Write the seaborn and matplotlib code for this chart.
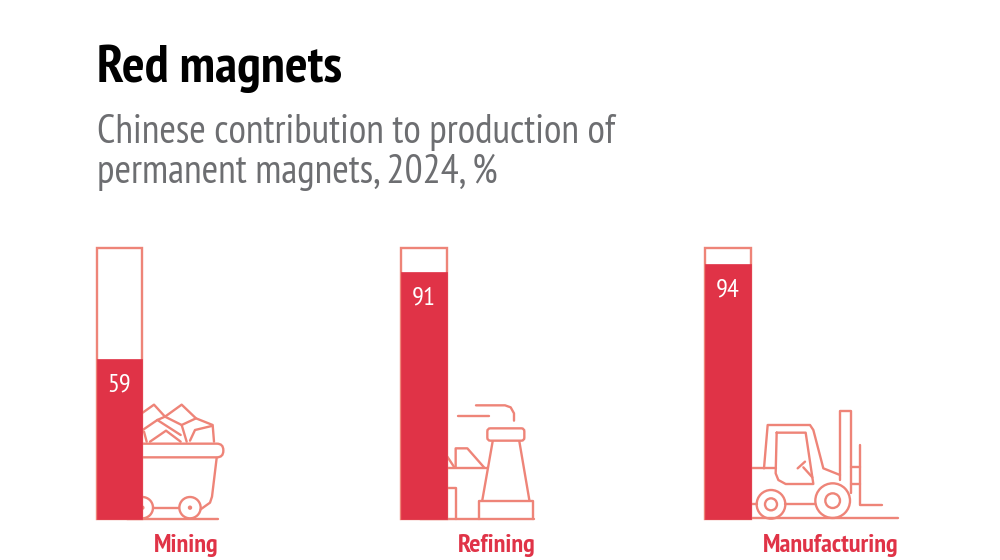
import matplotlib
matplotlib.use('Agg')
import logging
import matplotlib.pyplot as plt
import seaborn as sns
from matplotlib.patches import Circle, FancyBboxPatch

# data
stages = ['Mining', 'Refining', 'Manufacturing']
china_share = [59, 91, 94]
full_scale = [100, 100, 100]
value_labels = ['59', '91', '94']

RED = '#e03347'
LINE = '#ee8478'
GREY = '#6d6e71'

sns.set_style('white')
logging.getLogger('matplotlib.font_manager').setLevel(logging.ERROR)
plt.rcParams['font.family'] = ['PT Sans Narrow', 'Roboto', 'DejaVu Sans']

fig = plt.figure(figsize=(10, 5.6), dpi=100, facecolor='white')

# icons sit behind the bars, drawn in figure pixels
bg = fig.add_axes([0, 0, 1, 1], zorder=0)
bg.set_xlim(0, 1000)
bg.set_ylim(560, 0)
bg.axis('off')


def line(x0, y0, pts, lw=1.7):
    xs = [x0 + p[0] / 3 for p in pts]
    ys = [y0 + p[1] / 3 for p in pts]
    bg.plot(xs, ys, color=LINE, lw=lw, solid_capstyle='round', solid_joinstyle='round')


def wheel(x0, y0, cx, cy, r, r2):
    bg.add_patch(Circle((x0 + cx / 3, y0 + cy / 3), r / 3, fc='none', ec=LINE, lw=1.7))
    bg.add_patch(Circle((x0 + cx / 3, y0 + cy / 3), r2 / 3, fc='none', ec=LINE, lw=1.7))


def rounded(x0, y0, x1, y1, x2, y2, rad):
    bg.add_patch(FancyBboxPatch((x0 + x1 / 3 + rad, y0 + y1 / 3 + rad),
                                (x2 - x1) / 3 - 2 * rad, (y2 - y1) / 3 - 2 * rad,
                                boxstyle='round,pad=%s' % rad, fc='none', ec=LINE, lw=1.7))


# mining cart
x0, y0 = 80, 340
line(x0, y0, [(140, 537), (413, 537)])
rounded(x0, y0, 150, 311, 430, 352, 6.5)
line(x0, y0, [(410, 354), (396, 470), (390, 488), (362, 508)])
line(x0, y0, [(218, 503), (297, 503)])
wheel(x0, y0, 187, 503, 32, 3)
wheel(x0, y0, 330, 503, 32, 3)

# rocks in the cart
x0, y0 = 140, 400
line(x0, y0, [(8, 38), (42, 14), (75, 50)])
line(x0, y0, [(75, 50), (125, 14), (168, 55), (218, 75), (222, 125)])
line(x0, y0, [(8, 90), (52, 60), (122, 105)])
line(x0, y0, [(52, 60), (75, 50), (125, 75), (168, 55)])
line(x0, y0, [(12, 95), (20, 125)])
line(x0, y0, [(30, 125), (78, 92), (122, 125)])
line(x0, y0, [(125, 75), (140, 125)])
line(x0, y0, [(150, 122), (165, 90), (215, 78)])

# refinery
x0, y0 = 390, 380
line(x0, y0, [(90, 416), (432, 416)])
rounded(x0, y0, 292, 145, 403, 182, 3)
line(x0, y0, [(308, 184), (277, 360)])
line(x0, y0, [(388, 184), (418, 360)])
line(x0, y0, [(267, 416), (267, 362), (428, 362), (428, 416)])
line(x0, y0, [(258, 76), (345, 76), (362, 82), (372, 100), (372, 122)])
line(x0, y0, [(205, 107), (297, 107)])
line(x0, y0, [(172, 230), (193, 262)])
line(x0, y0, [(172, 264), (290, 264)])
line(x0, y0, [(197, 262), (197, 205), (232, 205), (282, 262)])
line(x0, y0, [(172, 325), (199, 325), (199, 416)])

# forklift
x0, y0 = 695, 380
line(x0, y0, [(150, 415), (610, 415)])
line(x0, y0, [(435, 300), (435, 92), (468, 92), (468, 340)])
line(x0, y0, [(496, 195), (496, 375), (560, 375)])
line(x0, y0, [(468, 262), (496, 262)])
line(x0, y0, [(468, 312), (496, 312)])
line(x0, y0, [(207, 265), (218, 135), (345, 135), (355, 150), (385, 265), (435, 285)])
line(x0, y0, [(245, 158), (332, 158), (355, 312), (272, 312), (250, 300), (242, 280), (245, 158)])
line(x0, y0, [(172, 265), (242, 265)])
line(x0, y0, [(308, 265), (330, 245)])
line(x0, y0, [(325, 262), (352, 292)])
line(x0, y0, [(172, 373), (186, 373)])
line(x0, y0, [(271, 373), (361, 373)])
wheel(x0, y0, 228, 373, 43, 18)
wheel(x0, y0, 413, 362, 52, 22)

# bars
ax = fig.add_axes([0, 0, 1, 1], zorder=1)
ax.patch.set_alpha(0)
sns.barplot(x=stages, y=full_scale, color='white', saturation=1, width=0.151,
            edgecolor=LINE, linewidth=1.7, ax=ax)
sns.barplot(x=stages, y=china_share, color=RED, saturation=1, width=0.151,
            edgecolor=RED, linewidth=0.5, ax=ax)
step = 304.25
ax.set_xlim(-119.5 / step, (1000 - 119.5) / step)
ax.set_ylim(-41 / 2.71, 519 / 2.71)
ax.axis('off')

for i, v in enumerate(china_share):
    ax.annotate(value_labels[i], (i, v), xytext=(0, -18.5), textcoords='offset points',
                ha='center', va='center', color='white', fontsize=19)

bg.text(97, 82, 'Red magnets', fontsize=38.5, fontweight='bold', color='black', va='baseline')
bg.text(97, 143, 'Chinese contribution to production of', fontsize=28.8, color=GREY, va='baseline')
bg.text(97, 183, 'permanent magnets, 2024, %', fontsize=28.8, color=GREY, va='baseline')

for name, cx in zip(stages, [186, 497, 831]):
    bg.text(cx, 552, name, fontsize=19, fontweight='bold', color=RED, ha='center', va='baseline')

fig.savefig('out.png', dpi=100)
